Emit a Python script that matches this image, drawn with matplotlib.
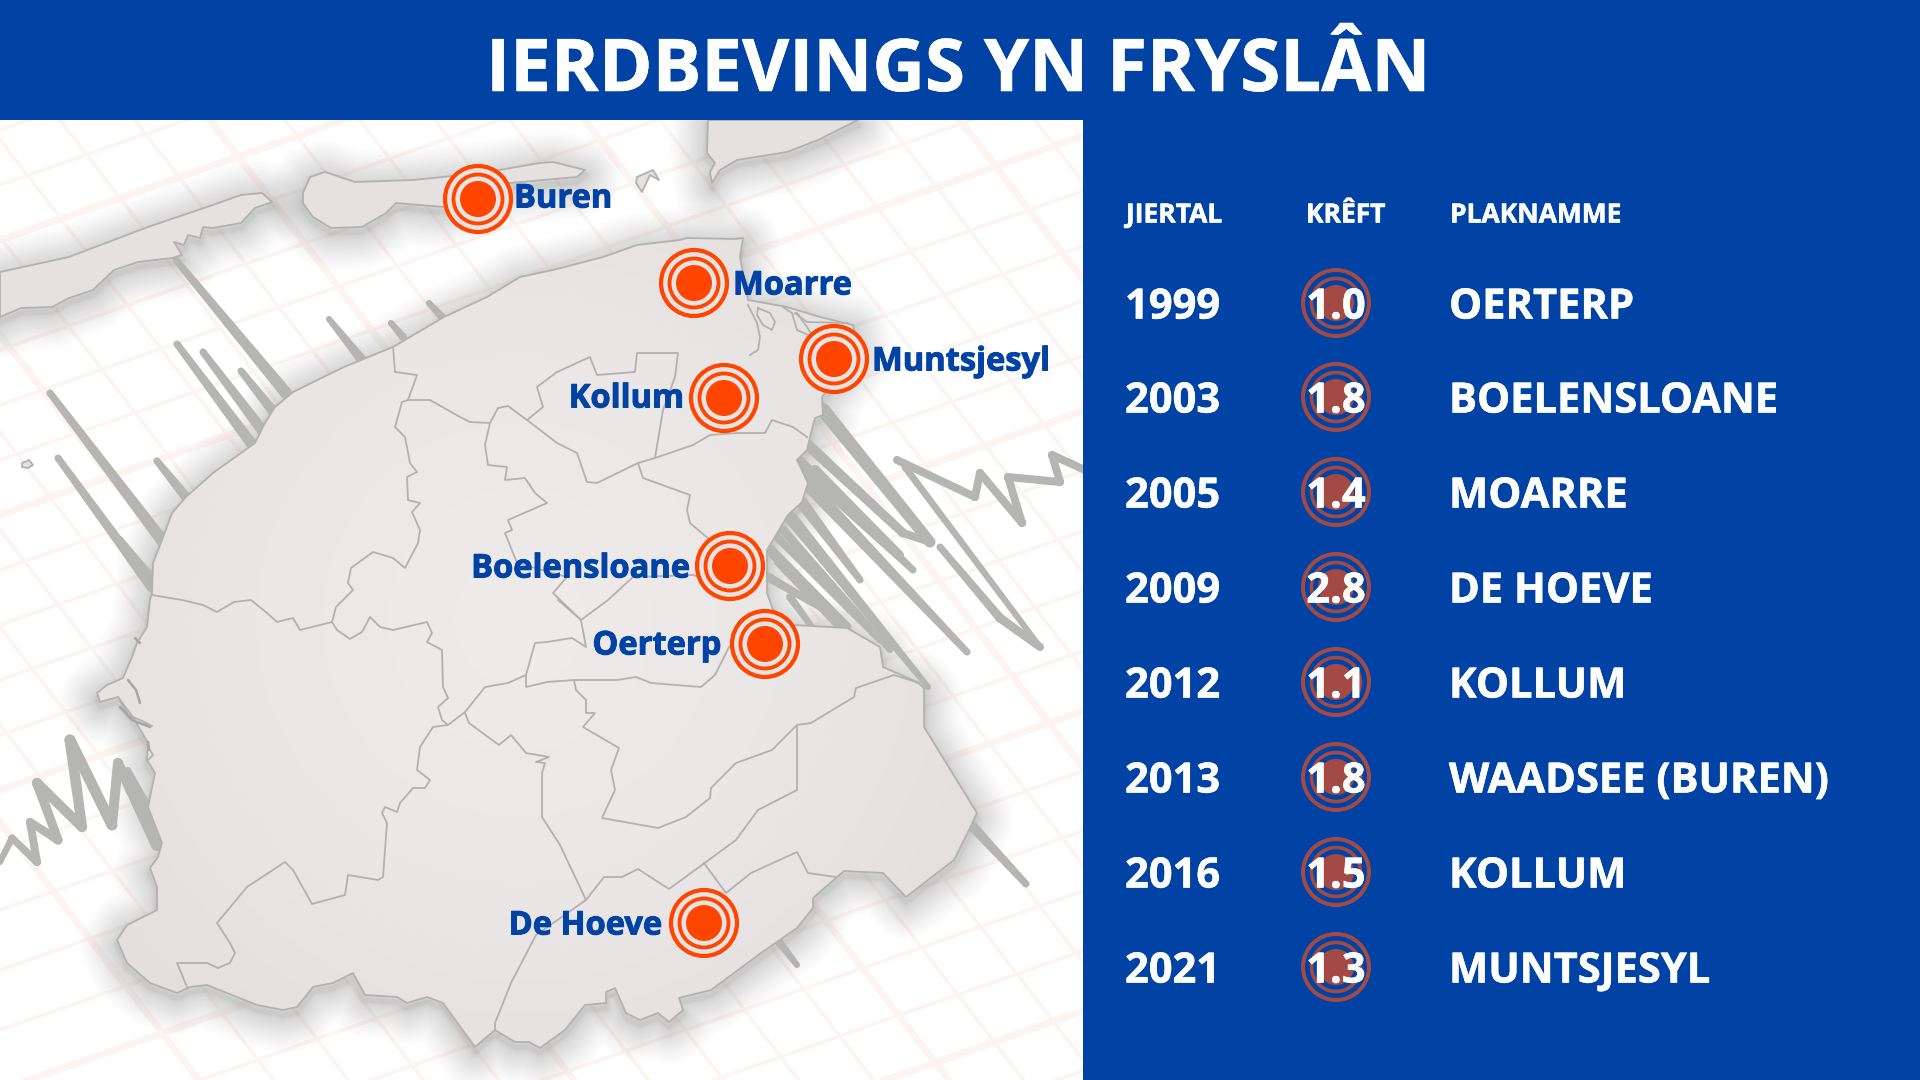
import numpy as np
import matplotlib
matplotlib.use("Agg")
import matplotlib.pyplot as plt
import matplotlib.patheffects as pe
from matplotlib.patches import Polygon, Circle, Rectangle
from matplotlib.colors import LinearSegmentedColormap

# ---------- table content ----------
title = "IERDBEVINGS YN FRYSLÂN"
headers = ["JIERTAL", "KRÊFT", "PLAKNAMME"]
years = ["1999", "2003", "2005", "2009", "2012", "2013", "2016", "2021"]
strengths = ["1.0", "1.8", "1.4", "2.8", "1.1", "1.8", "1.5", "1.3"]
places = ["OERTERP", "BOELENSLOANE", "MOARRE", "DE HOEVE", "KOLLUM", "WAADSEE (BUREN)", "KOLLUM", "MUNTSJESYL"]
row_y = [303, 397, 492, 587, 682, 777, 872, 967]

# ---------- map labels: name, marker x, y, label x, y, ha ----------
quake_names = ["Buren", "Moarre", "Muntsjesyl", "Kollum", "Boelensloane", "Oerterp", "De Hoeve"]
quake_x = [478, 694, 834, 724, 730, 765, 704]
quake_y = [199, 283, 359, 398, 566, 644, 923]
label_x = [514, 733, 872, 684, 690, 721, 662]
label_y = [195, 282, 358, 395, 565, 642, 922]
label_ha = ["left", "left", "left", "right", "right", "right", "right"]

# ---------- map geometry ----------
mainland = [(152,593),(153,563),(162,540),(172,513),(186,497),(213,473),(255,443),(265,423),(275,407),(293,392),
 (344,367),(393,347),(444,317),(487,297),(520,277),(553,270),(603,257),(637,245),(680,240),(687,238),(735,239),(743,238),
 (740,257),(748,300),(787,307),(820,317),(853,325),(858,350),(840,375),(822,397),(823,415),(815,418),(810,437),(807,450),
 (797,460),(808,483),(802,502),(788,515),(767,550),(767,593),(773,610),(793,625),(847,628),(880,647),(883,667),(917,682),
 (924,688),(924,727),(977,813),(969,830),(954,860),(906,897),(883,873),(844,871),(813,898),(813,908),(797,928),(761,953),
 (711,990),(679,998),(683,1010),(669,1022),(658,1013),(640,1020),(626,1013),(615,988),(606,992),(606,1003),(585,1005),
 (565,1030),(540,1048),(529,1042),(515,1042),(495,1030),(475,1047),(443,1003),(427,997),(407,1003),(397,997),(365,995),
 (353,973),(333,983),(313,987),(297,1007),(283,1010),(257,1005),(207,985),(190,987),(177,993),(150,983),(127,963),(117,940),
 (127,925),(157,910),(157,887),(150,868),(158,857),(162,843),(148,807),(155,773),(147,760),(148,743),(133,717),(118,697),
 (100,702),(97,693),(107,685),(123,678),(132,657),(137,643),(147,627),(150,600)]
terschelling = [(0,272),(69,257),(148,227),(207,207),(241,195),(262,193),(272,202),(255,208),(241,223),(213,228),(203,227),
 (200,238),(188,235),(184,245),(174,242),(182,255),(172,258),(138,262),(114,270),(93,290),(69,298),(52,307),(21,308),(0,317)]
ameland = [(303,193),(310,177),(325,172),(355,182),(413,180),(482,173),(540,163),(553,162),(585,170),(577,177),(510,183),
 (444,207),(396,203),(386,213),(362,227),(331,228),(313,217),(303,203)]
schiermonnikoog = [(708,120),(707,153),(715,163),(710,172),(712,183),(720,170),(737,160),(787,152),(818,140),(858,120)]
small_island = [(637,177),(653,170),(659,180),(650,175),(642,192),(636,183)]
tiny_island = [(22,463),(29,460),(33,465),(28,468),(22,467)]

borders = [
 [(393,347),(395,372),(417,375),(408,400),(402,402),(395,427),(405,437),(410,463),(417,472),(407,477),(408,500),(420,503),
  (412,512),(420,530),(418,543),(405,568),(393,558),(373,552),(351,568),(348,583),(353,590),(336,607),(332,622)],
 [(152,595),(182,600),(203,605),(217,612),(234,602),(251,600),(267,613),(277,622),(293,618),(300,630),(332,622),(337,630),
  (350,639),(362,632),(370,617),(380,627),(393,630),(427,622),(432,633),(427,642),(442,650),(443,687),(448,698),(438,707),
  (442,720),(448,725),(433,727),(420,747),(417,770),(430,780),(425,788),(413,788),(400,803),(397,812),(385,807),(382,813),
  (387,823),(383,877),(378,880),(348,875),(345,895),(312,904),(293,870),(285,862),(247,887),(217,923),(230,943),(235,953),
  (230,963),(218,968),(207,963),(177,963),(187,987)],
 [(448,725),(465,712),(485,687),(508,683),(526,675),(526,687),(547,682),(574,680),(617,680),(636,677),(651,683),(701,687),
  (715,675),(729,647),(744,635)],
 [(526,675),(535,643),(547,642),(572,638),(586,647),(581,620),(558,600)],
 [(581,620),(608,600),(633,577),(693,575),(720,583),(753,570)],
 [(408,400),(430,400),(460,417),(470,422),(490,423),(498,408),(508,406),(527,420),(557,443),(577,453),(587,482),(597,483),
  (638,463),(655,458),(693,445),(710,435),(737,433),(765,433),(772,420),(793,427),(807,437)],
 [(527,420),(543,407),(537,387),(557,372),(590,357),(597,375),(635,372),(637,353),(678,353),(675,377),(663,410),(655,458)],
 [(490,423),(485,445),(488,465),(507,467),(505,480),(525,478),(535,493),(547,503),(508,520),(512,530),(505,533),(517,563),
  (567,577),(553,593),(581,620)],
 [(638,463),(643,478),(690,495),(687,510),(690,523),(710,540),(718,560),(723,585)],
 [(465,713),(469,723),(499,745),(511,735),(526,753),(549,757),(536,762),(545,763),(542,773),(542,817),(560,845),(586,900)],
 [(574,680),(576,690),(586,700),(586,713),(595,713),(583,727),(619,748),(611,770),(615,790),(602,818),(658,828),(686,817),
  (710,798),(711,788),(736,763),(772,750),(797,725),(811,723),(854,697),(856,688),(894,675),(919,683)],
 [(797,727),(797,790),(758,810),(736,840),(706,862),(669,889),(638,869),(622,877),(604,877),(586,900),(536,935),(511,983),(495,1023),(495,1030)],
 [(704,863),(726,893),(751,873),(797,852),(808,873),(836,877)],
 [(758,308),(770,313),(775,322),(772,330),(763,325),(757,315),(758,308)],
 [(748,305),(757,323),(760,337),(758,350),(750,355)],
 [(783,307),(792,313),(797,330),(813,337),(807,327),(797,313)],
 [(795,313),(807,322),(847,323)],
 [(118,697),(128,715),(140,720),(152,726)],
 [(147,745),(153,755),(148,760)],
]
dark_marks = [[(128,680),(136,690),(140,703)], [(120,707),(132,720),(150,727)], [(135,638),(140,643)], [(148,742),(149,750)]]

# tapered strokes: x0, y0, x1, y1, start width, end width
spikes = [
 (176,260,286,393,7,12),(177,344,251,443,7,11),(203,352,262,430,7,11),(241,371,272,410,7,10),
 (50,393,162,540,7,12),(58,458,152,587,7,11),(121,538,153,577,3,5),(157,461,186,497,7,10),
 (329,319,362,360,6,10),(391,323,403,337,6,8),(429,303,443,318,6,8),
 (973,827,1026,884,10,7),(779,942,797,965,8,6),
 # east bundle
 (823,410,930,542,14,11),(808,445,903,533,11,9),(930,542,903,533,8,8),(798,462,913,570,14,7),
 (810,487,967,652,13,7),(802,503,860,580,12,7),(790,517,928,687,13,6),(770,550,847,627,11,9),
 (775,535,880,640,8,7),(815,470,900,555,10,8),(783,530,890,650,9,6),(778,562,870,660,8,6),
 (768,577,820,607,9,7),(790,597,812,627,8,6),(905,467,1040,647,7,6),(940,547,1000,618,7,9),(1000,618,1040,647,9,8),
 # east tail
 (897,460,975,497,8,8),(975,497,980,473,8,8),(980,473,1022,523,8,8),(1022,523,1008,477,8,8),(1008,477,1060,482,8,8),
 (1060,482,1052,455,8,8),(1052,455,1085,470,8,8),
 # west tail
 (0,862,12,838,6,7),(12,838,37,862,7,8),(37,862,30,822,8,8),(30,822,58,840,8,9),(58,840,37,783,9,10),(37,783,82,827,10,10),
 (82,827,70,740,10,11),(70,740,112,825,11,11),(112,825,118,763,10,10),(118,763,157,845,10,12),(128,770,160,830,6,9),
]

# background grid offsets
grid_a = [-540,-465,-390,-315,-240,-165,-90,-15,60,135,210,285,360,435,510,585,660,735,810,885,960,1035]
grid_b = [130,185,240,295,350,405,460,515,570,625,680,735,790,850,910,970,1030,1090,1150,1210,1270,1330,1390,1450]
grid_a_heavy = [-540,-165,210,585,960]
grid_b_heavy = [240,515,790,1090,1390]

BLUE = "#0043a5"
ORANGE = "#ff4500"
FONT = "Open Sans"
plt.rcParams["font.family"] = [FONT, "DejaVu Sans"]


def px(v):
    return v * 0.72


fig = plt.figure(figsize=(19.2, 10.8), dpi=100, facecolor="white")
ax = fig.add_axes([0, 0, 1, 1])
ax.set_xlim(0, 1920)
ax.set_ylim(1080, 0)
ax.axis("off")

# grid
for a in grid_a:
    ax.plot([a, a + 960 / 1.3], [120, 1080], color="#fdf4f2", lw=px(7 if a in grid_a_heavy else 3.5), zorder=1)
for b in grid_b:
    ax.plot([0, 1083], [b, b - 1083 * 0.35], color="#fdf4f2", lw=px(7 if b in grid_b_heavy else 3.5), zorder=1)

# shadows
shapes = [mainland, terschelling, ameland, schiermonnikoog]
steps = 22
for pts in shapes:
    shifted = [(x, y + 5) for x, y in pts]
    for i in range(steps, 0, -1):
        lw = 4 + 70 * (i / steps) ** 2
        ax.add_patch(Polygon(shifted, closed=True, fill=False, ec="#3a3a3a", lw=px(lw), alpha=0.012,
                             joinstyle="round", zorder=2))

# spikes
for x0, y0, x1, y1, w0, w1 in spikes:
    v = np.array([x1 - x0, y1 - y0], float)
    n = np.array([-v[1], v[0]]) / np.hypot(*v)
    quad = [(x0 + n[0] * w0 / 2, y0 + n[1] * w0 / 2), (x1 + n[0] * w1 / 2, y1 + n[1] * w1 / 2),
            (x1 - n[0] * w1 / 2, y1 - n[1] * w1 / 2), (x0 - n[0] * w0 / 2, y0 - n[1] * w0 / 2)]
    ax.add_patch(Polygon(quad, closed=True, fc="#b5b5b3", ec="none", zorder=3))
    ax.add_patch(Circle((x0, y0), w0 / 2, fc="#b5b5b3", ec="none", zorder=3))
    ax.add_patch(Circle((x1, y1), w1 / 2, fc="#b5b5b3", ec="none", zorder=3))

# land with soft gradient
cmap = LinearSegmentedColormap.from_list("land", ["#efebeb", "#ebe7e7", "#e2dfde"])
yy, xx = np.mgrid[0:1080:240j, 0:1083:240j]
grad = np.hypot((xx - 520) / 480, (yy - 620) / 480)
for pts in shapes + [small_island, tiny_island]:
    ax.add_patch(Polygon(pts, closed=True, fc="#e5e1e1", ec="none", zorder=4))
clip = Polygon(mainland, closed=True, transform=ax.transData, fc="none", ec="none")
ax.add_patch(clip)
im = ax.imshow(grad, extent=(0, 1083, 1080, 0), cmap=cmap, vmin=0, vmax=1.1, zorder=4.1, aspect="auto", interpolation="bilinear")
im.set_clip_path(clip)
ax.set_xlim(0, 1920)
ax.set_ylim(1080, 0)
for pts in shapes + [small_island, tiny_island]:
    ax.add_patch(Polygon(pts, closed=True, fc="none", ec="#b3b1b0", lw=px(1.8), joinstyle="round", zorder=5))
for line in borders:
    xs, ys = zip(*line)
    ax.plot(xs, ys, color="#b3b1b0", lw=px(1.8), solid_joinstyle="round", zorder=5)
for line in dark_marks:
    xs, ys = zip(*line)
    ax.plot(xs, ys, color="#a5a5a5", lw=px(2.5), solid_capstyle="round", zorder=5)

bolder = [pe.withStroke(linewidth=0.7, foreground=BLUE)]
bolder_w = [pe.withStroke(linewidth=0.4, foreground="white")]

# quake markers
for n, x, y, lx, ly, ha in zip(quake_names, quake_x, quake_y, label_x, label_y, label_ha):
    ax.add_patch(Circle((x, y), 33, fc="#e6e3e3", ec=ORANGE, lw=px(4.2), zorder=6))
    ax.add_patch(Circle((x, y), 24.5, fc="none", ec=ORANGE, lw=px(3.8), zorder=6))
    ax.add_patch(Circle((x, y), 18, fc=ORANGE, ec="none", zorder=6))
    ax.text(lx, ly, n, color=BLUE, fontsize=23.5, fontweight="bold", ha=ha, va="center_baseline",
            zorder=7, path_effects=bolder)

# panels
ax.add_patch(Rectangle((0, 0), 1920, 120, fc=BLUE, ec="none", zorder=8))
ax.add_patch(Rectangle((1083, 120), 837, 960, fc=BLUE, ec="none", zorder=8))
ax.text(958, 63, title, color="white", fontsize=52.3, fontweight="bold", ha="center", va="center_baseline",
        zorder=9, path_effects=bolder_w)

for h, x in zip(headers, [1126, 1306, 1450]):
    ax.text(x, 212, h, color="white", fontsize=19, fontweight="bold", ha="left", va="center_baseline",
            zorder=9, path_effects=bolder_w)
for y, yr, s, pl in zip(row_y, years, strengths, places):
    ax.text(1125, y, yr, color="white", fontsize=30, fontweight="bold", ha="left", va="center_baseline",
            zorder=10, path_effects=bolder_w)
    ax.add_patch(Circle((1336, y), 33, fc="none", ec="#a34a45", lw=px(4), zorder=9))
    ax.add_patch(Circle((1336, y), 24.5, fc="none", ec="#a34a45", lw=px(3.6), zorder=9))
    ax.add_patch(Circle((1336, y), 18, fc="#a34a45", ec="none", zorder=9))
    ax.text(1336, y, s, color="white", fontsize=30, fontweight="bold", ha="center", va="center_baseline",
            zorder=10, path_effects=bolder_w)
    ax.text(1449, y, pl, color="white", fontsize=30, fontweight="bold", ha="left", va="center_baseline",
            zorder=10, path_effects=bolder_w)

fig.savefig("out.png", dpi=100)
